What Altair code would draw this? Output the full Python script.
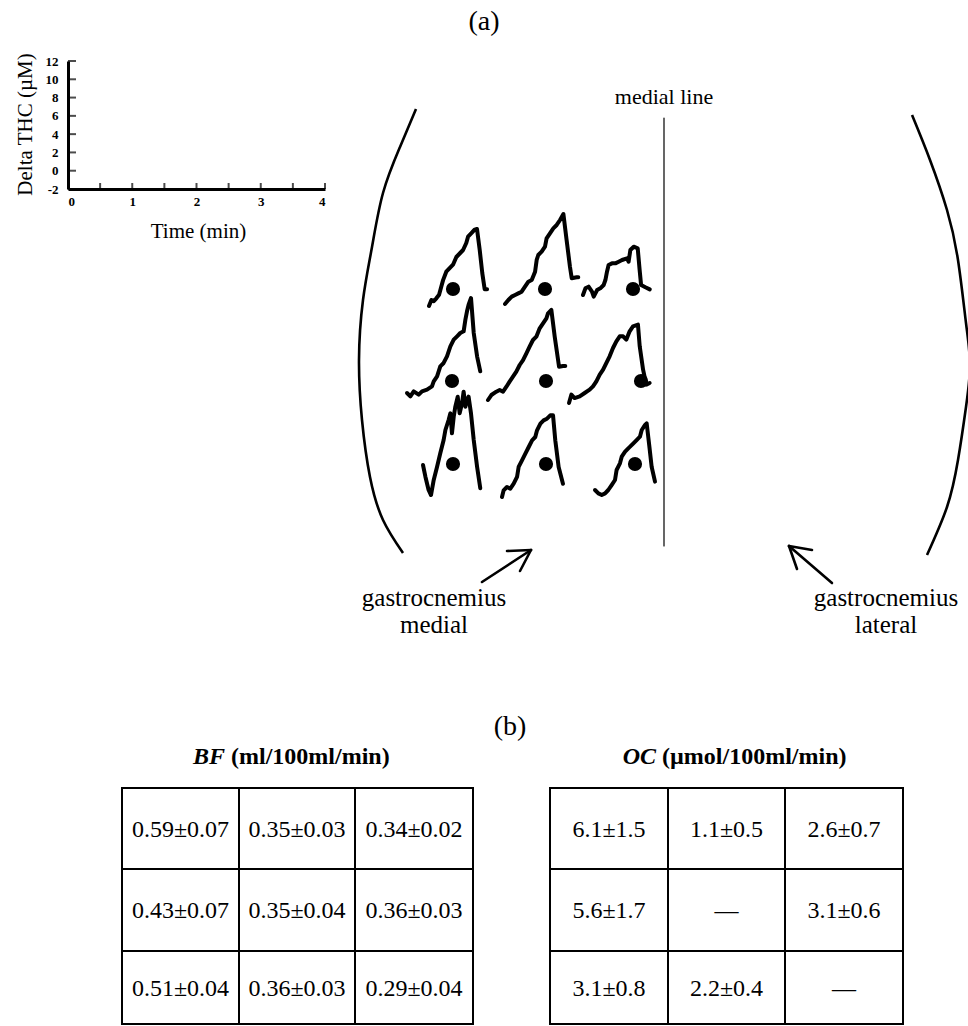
import altair as alt
import pandas as pd

W, H = 968, 1026
FONT = "Liberation Serif"

# ---------------- data ----------------
# Nine Delta THC traces (time in min, Delta THC in uM); rows top->bottom, columns left->right
t1 = [0, .15, .3, .46, .63, .77, .88, 1.08, 1.29, 1.5, 1.71, 1.92, 2.13, 2.33, 2.44, 2.65, 2.85, 3.0, 3.17, 3.33, 3.48, 3.63]
v1 = [0, .86, .7, 1.1, 1.6, 2.8, 3.7, 4.9, 5.4, 5.9, 7.0, 7.5, 8.0, 9.0, 9.9, 10.4, 10.9, 11.0, 8.0, 4.7, 2.4, 2.4]
t2 = [0, .21, .42, .63, .83, 1.04, 1.25, 1.46, 1.67, 1.88, 1.98, 2.08, 2.29, 2.5, 2.6, 2.81, 3.02, 3.23, 3.44, 3.65, 3.85, 4.06, 4.17, 4.48, 4.58]
v2 = [0, .57, 1.05, 1.29, 1.52, 1.76, 2.48, 3.19, 3.43, 4.62, 6.29, 7.0, 7.48, 8.19, 9.38, 10.1, 10.81, 11.29, 12.0, 12.86, 9.14, 5.33, 3.67, 3.81, 3.81]
t3 = [0, .15, .35, .56, .67, .88, 1.08, 1.29, 1.4, 1.5, 1.6, 1.81, 2.02, 2.23, 2.44, 2.75, 2.85, 2.96, 3.17, 3.42, 3.54, 3.63, 3.9, 4.17]
v3 = [0, .95, 1.19, .48, -.24, .71, .95, 1.43, 2.14, 3.33, 4.29, 4.52, 4.52, 4.76, 5.0, 5.24, 4.76, 6.43, 6.9, 6.67, 3.57, 1.43, 1.1, .81]
t4 = [0, .21, .42, .73, .94, 1.25, 1.56, 1.67, 1.88, 2.08, 2.29, 2.5, 2.71, 2.92, 3.13, 3.33, 3.54, 3.65, 3.75, 3.85, 4.0, 4.17, 4.38, 4.58]
v4 = [0, -.48, .24, -.24, .24, .48, .95, 1.67, 2.38, 3.81, 4.29, 5.24, 6.67, 7.62, 8.1, 8.57, 8.81, 10.48, 11.67, 12.62, 13.57, 8.57, 5.24, 3.1]
t5 = [0, .21, .52, .73, .94, 1.15, 1.35, 1.56, 1.77, 1.98, 2.19, 2.4, 2.6, 2.81, 3.02, 3.23, 3.44, 3.65, 3.75, 3.96, 4.17, 4.38, 4.44, 4.69, 4.83]
v5 = [0, .71, 1.19, 1.43, 1.19, 1.9, 2.62, 3.33, 4.05, 5.0, 5.71, 6.67, 7.62, 8.57, 9.05, 10.24, 10.95, 11.67, 12.38, 12.86, 9.05, 5.71, 4.76, 4.86, 4.86]
t6 = [0, .15, .35, .67, .98, 1.29, 1.5, 1.71, 1.92, 2.13, 2.33, 2.54, 2.75, 2.96, 3.17, 3.38, 3.58, 3.79, 4.0, 4.31, 4.42, 4.63, 4.83, 5.04]
v6 = [0, 1.19, .71, .95, 1.43, 1.9, 2.38, 3.1, 4.05, 4.76, 5.71, 6.67, 7.86, 8.81, 9.52, 9.52, 9.05, 10.24, 10.95, 11.19, 8.1, 4.76, 2.62, 2.86]
t7 = [0, .15, .35, .5, .67, .88, 1.08, 1.29, 1.4, 1.6, 1.71, 1.81, 1.92, 2.02, 2.17, 2.29, 2.44, 2.54, 2.65, 2.75, 2.85, 3.0, 3.17, 3.38, 3.58]
v7 = [0, -1.67, -3.57, -4.29, -2.14, -.24, 1.67, 3.57, 5.0, 6.43, 7.38, 4.52, 6.9, 8.33, 9.76, 7.38, 8.81, 10.48, 8.33, 9.29, 9.76, 7.38, 3.57, -.24, -3.33]
t8 = [0, .1, .31, .52, .73, .94, 1.04, 1.25, 1.46, 1.67, 1.88, 2.08, 2.19, 2.4, 2.6, 2.81, 3.02, 3.19, 3.33, 3.54, 3.81]
v8 = [0, .95, 1.43, 1.19, 1.9, 2.86, 4.29, 5.24, 6.19, 7.14, 8.1, 8.57, 9.52, 10.48, 10.95, 11.19, 11.67, 11.67, 8.1, 4.29, 1.9]
t9 = [0, .21, .42, .63, .83, 1.04, 1.25, 1.35, 1.56, 1.67, 1.88, 2.08, 2.19, 2.4, 2.6, 2.81, 2.92, 3.13, 3.23, 3.4, 3.54, 3.75]
v9 = [0, -.48, -.71, -.48, 0, .71, 1.43, 2.86, 3.81, 4.76, 5.48, 5.95, 6.19, 6.67, 7.14, 7.62, 8.57, 9.29, 9.52, 6.19, 3.33, 1.19]
trace_times = [t1, t2, t3, t4, t5, t6, t7, t8, t9]
trace_values = [v1, v2, v3, v4, v5, v6, v7, v8, v9]

# Scale-bar axis of panel (a)
time_ticks = [0, 1, 2, 3, 4]
time_minor = [0, .5, 1, 1.5, 2, 2.5, 3, 3.5, 4]
thc_ticks = [-2, 0, 2, 4, 6, 8, 10, 12]

# Panel (b) tables
bf_values = [["0.59±0.07", "0.35±0.03", "0.34±0.02"],
             ["0.43±0.07", "0.35±0.04", "0.36±0.03"],
             ["0.51±0.04", "0.36±0.03", "0.29±0.04"]]
oc_values = [["6.1±1.5", "1.1±0.5", "2.6±0.7"],
             ["5.6±1.7", "—", "3.1±0.6"],
             ["3.1±0.8", "2.2±0.4", "—"]]

# ---------------- layout (page pixels) ----------------
AXIS_X = [68, 325]          # 0..4 min
AXIS_Y = [189, 61]          # -2..12 uM
trace_x0 = [429, 505, 583, 407, 488, 569, 423, 502, 595]
trace_y0 = [306, 304, 295, 393, 400, 403, 465, 497, 490]
PX_PER_MIN, PX_PER_UM = 16, 7
site_x = [453, 545, 633, 452, 546, 641, 453, 546, 635]
site_y = [289, 289, 289, 381, 381, 381, 464, 464, 464]
left_arc_x = [416, 400, 383, 372, 363, 359, 362, 370, 383, 403]
left_arc_y = [109, 147, 193, 247, 300, 360, 420, 477, 520, 553]
right_arc_x = [912, 930, 947, 958, 966, 970, 966, 958, 947, 927]
right_arc_y = [115, 160, 210, 260, 323, 365, 407, 460, 507, 555]
bf_cols = [122, 239, 355, 473]
oc_cols = [550, 668, 785, 903]
tab_rows = [788, 869, 951, 1024]

PX = alt.Scale(domain=[0, W], range=[0, W], nice=False, zero=False)
PY = alt.Scale(domain=[0, H], range=[0, H], nice=False, zero=False)


def pxy(x="x", y="y"):
    return dict(x=alt.X(f"{x}:Q", scale=PX, axis=None),
                y=alt.Y(f"{y}:Q", scale=PY, axis=None))


layers = []

# ---- small scale chart (axes only) ----
SX = alt.Scale(domain=[0, 4], range=AXIS_X, nice=False, zero=False)
SY = alt.Scale(domain=[-2, 12], range=AXIS_Y, nice=False, zero=False)
xt = pd.DataFrame({"t": time_minor, "v": [-2] * len(time_minor)})
layers.append(
    alt.Chart(xt).mark_tick(orient="vertical", size=6, thickness=2, color="black", yOffset=-3).encode(
        x=alt.X("t:Q", scale=SX, axis=alt.Axis(
            orient="bottom", values=time_ticks, offset=-(H - AXIS_Y[0]), domainWidth=3, domainColor="black",
            ticks=False, tickSize=0, grid=False, labelFont=FONT, labelFontWeight="bold", labelFontSize=13,
            labelColor="black", labelPadding=6, labelExpr="datum.value", title="Time (min)", titleFont=FONT,
            titleFontSize=21, titleFontWeight="normal", titleColor="black", titleX=198, titleY=42,
            titleBaseline="middle", titleAlign="center")),
        y=alt.Y("v:Q", scale=SY, axis=alt.Axis(
            orient="left", values=thc_ticks, offset=-AXIS_X[0], domainWidth=3, domainColor="black",
            ticks=False, tickSize=0, grid=False, labelFont=FONT, labelFontWeight="bold", labelFontSize=13,
            labelColor="black", labelPadding=10, labelExpr="datum.value", title="Delta THC (µM)",
            titleFont=FONT, titleFontSize=21, titleFontWeight="normal", titleColor="black",
            titleX=-43, titleY=124, titleAngle=270, titleBaseline="middle", titleAlign="center")),
    )
)
yt = pd.DataFrame({"t": [0] * len(thc_ticks), "v": thc_ticks})
layers.append(
    alt.Chart(yt).mark_tick(orient="horizontal", size=8, thickness=2, color="black", xOffset=4).encode(
        x=alt.X("t:Q", scale=SX, axis=None), y=alt.Y("v:Q", scale=SY, axis=None))
)

# ---- traces ----
for i in range(9):
    df = pd.DataFrame({"t": trace_times[i], "v": trace_values[i], "k": range(len(trace_times[i]))})
    x0, y0 = trace_x0[i], trace_y0[i]
    layers.append(
        alt.Chart(df).mark_line(color="black", strokeWidth=4, strokeJoin="round", strokeCap="round").encode(
            x=alt.X("t:Q", scale=alt.Scale(domain=[0, 4], range=[x0, x0 + 4 * PX_PER_MIN], nice=False, zero=False), axis=None),
            y=alt.Y("v:Q", scale=alt.Scale(domain=[0, 10], range=[y0, y0 - 10 * PX_PER_UM], nice=False, zero=False), axis=None),
            order="k:Q")
    )

# ---- measurement sites ----
sites = pd.DataFrame({"x": site_x, "y": site_y})
layers.append(alt.Chart(sites).mark_circle(size=200, color="black", opacity=1).encode(**pxy()))

# ---- leg outline arcs ----
for ax, ay in [(left_arc_x, left_arc_y), (right_arc_x, right_arc_y)]:
    df = pd.DataFrame({"x": ax, "y": ay, "k": range(len(ax))})
    layers.append(alt.Chart(df).mark_line(color="black", strokeWidth=2.6, interpolate="natural").encode(
        order="k:Q", **pxy()))

# ---- medial line and arrows ----
segs = pd.DataFrame({
    "x": [664, 482, 531, 531, 832, 789, 789],
    "y": [118, 582, 550, 550, 583, 546, 546],
    "x2": [664, 531, 507, 520, 789, 797, 812],
    "y2": [546, 550, 551, 571, 546, 569, 550],
    "w": [1.2, 2.6, 2.6, 2.6, 2.6, 2.6, 2.6],
})
layers.append(alt.Chart(segs).mark_rule(color="black", strokeCap="round").encode(
    x2="x2:Q", y2="y2:Q", strokeWidth=alt.StrokeWidth("w:Q", scale=None), **pxy()))

# ---- table cells ----
cells = []
for cols, vals in [(bf_cols, bf_values), (oc_cols, oc_values)]:
    for r in range(3):
        for c in range(3):
            cells.append({"x": cols[c], "x2": cols[c + 1], "y": tab_rows[r], "y2": tab_rows[r + 1],
                          "cx": (cols[c] + cols[c + 1]) / 2, "cy": (tab_rows[r] + tab_rows[r + 1]) / 2 + 1,
                          "label": vals[r][c]})
cells = pd.DataFrame(cells)
layers.append(alt.Chart(cells).mark_rect(fill="white", stroke="black", strokeWidth=2).encode(
    x2="x2:Q", y2="y2:Q", **pxy()))
layers.append(alt.Chart(cells).mark_text(font=FONT, fontSize=24, color="black", baseline="middle", align="center").encode(
    text="label:N", **pxy("cx", "cy")))


def text_layer(rows, **mk):
    df = pd.DataFrame(rows, columns=["x", "y", "label"])
    props = dict(font=FONT, color="black", baseline="middle", align="center")
    props.update(mk)
    return alt.Chart(df).mark_text(**props).encode(text="label:N", **pxy())


layers.append(text_layer([(484, 22, "(a)"), (510, 727, "(b)")], fontSize=28))
layers.append(text_layer([(664, 97, "medial line")], fontSize=22))
layers.append(text_layer([(434, 598, "gastrocnemius"), (434, 625, "medial"),
                          (886, 598, "gastrocnemius"), (886, 625, "lateral")], fontSize=25))
layers.append(text_layer([(225, 757, "BF"), (656, 757, "OC")], fontSize=24, fontWeight="bold",
                         fontStyle="italic", align="right"))
layers.append(text_layer([(231, 757, "(ml/100ml/min)"), (662, 757, "(µmol/100ml/min)")], fontSize=24,
                         fontWeight="bold", align="left"))

chart = alt.layer(*layers).resolve_scale(x="independent", y="independent").properties(
    width=W, height=H, padding=0, autosize="none", background="white"
).configure_view(stroke=None)

chart.save("out.html", embed_options={"renderer": "svg", "actions": False})
